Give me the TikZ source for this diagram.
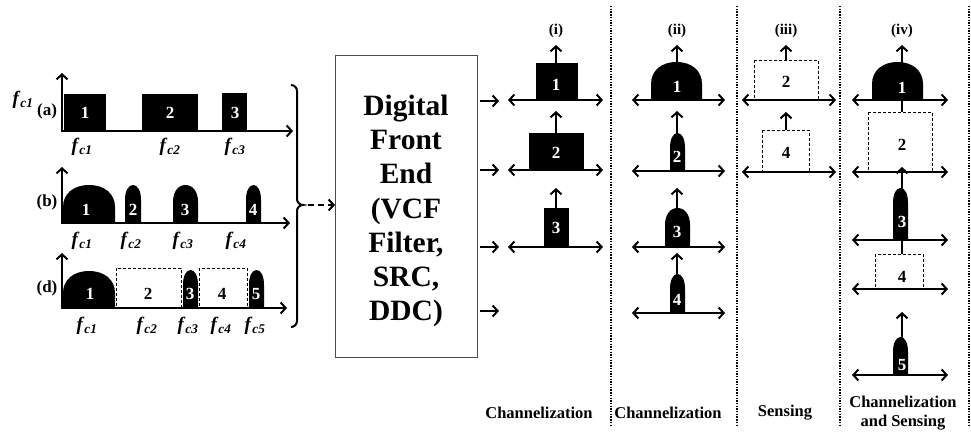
\documentclass[tikz,border=0pt]{standalone}
\usepackage{fontspec}
\setmainfont{Liberation Serif}
\usetikzlibrary{arrows.meta}

% filled spectral lobe: flat sides, rounded top
% #1 left x, #2 right x, #3 top y, #4 base y, #5 height of the rounded part
\newcommand\specHump[5]{%
  \pgfmathsetmacro\hxc{(#1+#2)/2}%
  \pgfmathsetmacro\hrx{(#2-#1)/2}%
  \fill (#1,#4) -- (#1,#3+#5)
    .. controls (#1,#3+0.4*#5) and (\hxc-0.6*\hrx,#3) .. (\hxc,#3)
    .. controls (\hxc+0.6*\hrx,#3) and (#2,#3+0.4*#5) .. (#2,#3+#5)
    -- (#2,#4) -- cycle;}
\newcommand\fcl[1]{\textit{f}\textsubscript{\textit{c#1}}}

\begin{document}
\begin{tikzpicture}[x=1pt,y=-1pt,
  barb/.tip={Straight Barb[length=5pt,width=11pt]},
  ax/.style={line width=2pt,-barb},
  dax/.style={line width=2pt,barb-barb},
  sensebox/.style={draw,line width=0.9pt,dash pattern=on 3pt off 2pt},
  colsep/.style={line width=2.2pt,dash pattern=on 1.4pt off 1.3pt},
  lbl/.style={font=\bfseries\fontsize{17}{20}\selectfont,inner sep=0pt},
  wlbl/.style={lbl,text=white},
  plbl/.style={font=\bfseries\fontsize{17}{20}\selectfont,inner sep=0pt},
  flbl/.style={font=\bfseries\fontsize{19}{22}\selectfont,inner sep=0pt},
  ttl/.style={font=\bfseries\fontsize{15}{18}\selectfont,inner sep=0pt},
  captxt/.style={font=\bfseries\fontsize{16.5}{19.5}\selectfont,inner sep=0pt,align=center}]
\useasboundingbox (0,0) rectangle (971,431);

% ---------- input spectra ----------
\node[flbl] (fctop) at (23,100) {\fcl{1}};
\node[plbl] (la) at (47,111) {(a)};
\node[plbl] (lb) at (47,202) {(b)};
\node[plbl] (ld) at (47,288) {(d)};

% (a)
\fill (64,94) rectangle (106,131);
\fill (142,94) rectangle (198,131);
\fill (222,93) rectangle (247,131);
\draw[ax] (62,131) -- (62,73);
\draw[ax] (61,131) -- (293,131);
\node[wlbl] (a1) at (85,113) {1};
\node[wlbl] (a2) at (170,113) {2};
\node[wlbl] (a3) at (235,113) {3};
\node[flbl] (fa1) at (82,147) {\fcl{1}};
\node[flbl] (fa2) at (170,147) {\fcl{2}};
\node[flbl] (fa3) at (235,147) {\fcl{3}};

% (b)
\specHump{63}{115}{185}{223}{22}
\specHump{125}{141}{185}{223}{15}
\specHump{173}{198}{185}{223}{17}
\specHump{246}{261}{185}{223}{15}
\draw[ax] (62,223) -- (62,167);
\draw[ax] (61,223) -- (290,223);
\node[wlbl] (b1) at (86,210) {1};
\node[wlbl] (b2) at (133,210) {2};
\node[wlbl] (b3) at (185,210) {3};
\node[wlbl] (b4) at (253,210) {4};
\node[flbl] (fb1) at (82,241) {\fcl{1}};
\node[flbl] (fb2) at (131,241) {\fcl{2}};
\node[flbl] (fb3) at (183,241) {\fcl{3}};
\node[flbl] (fb4) at (236,241) {\fcl{4}};

% (d)
\specHump{63}{115}{271}{308}{22}
\draw[sensebox] (116,268) rectangle (181,308);
\specHump{183}{198}{270}{308}{15}
\draw[sensebox] (199,268) rectangle (247,308);
\specHump{249}{264}{270}{308}{15}
\draw[ax] (62,308) -- (62,253);
\draw[ax] (61,308) -- (287,308);
\node[wlbl] (d1) at (90,294) {1};
\node[lbl] (d2) at (148,294) {2};
\node[wlbl] (d3) at (190,294) {3};
\node[lbl] (d4) at (222,294) {4};
\node[wlbl] (d5) at (256,294) {5};
\node[flbl] (fd1) at (87,326) {\fcl{1}};
\node[flbl] (fd2) at (147,326) {\fcl{2}};
\node[flbl] (fd3) at (188,326) {\fcl{3}};
\node[flbl] (fd4) at (221,326) {\fcl{4}};
\node[flbl] (fd5) at (255,326) {\fcl{5}};

% brace gathering the three inputs
\coordinate (btip) at (303,205);
\draw[line width=2pt] (291,85) to[out=0,in=90] (297,91) -- (297,199)
  to[out=-90,in=180] (btip) to[out=180,in=90] (297,211) -- (297,321)
  to[out=-90,in=0] (291,327);

% ---------- digital front end ----------
\node[draw=black!70,line width=1.2pt,minimum width=142,minimum height=302,
  anchor=north west,inner sep=0pt] (dfe) at (335,55) {};
\node[font=\bfseries\fontsize{29.5}{34.3}\selectfont,align=center,inner sep=0pt]
  (dfetext) at (406,211) {Digital\\Front\\End\\(VCF\\Filter,\\SRC,\\DDC)};
\draw[line width=2pt,dash pattern=on 6pt off 4pt,-barb] (btip) ++(5,0) -- (dfe.west |- btip);

\foreach \yy/\nm in {101/o1,170/o2,247/o3,311/o4}{
  \coordinate (\nm) at (499,\yy);
  \draw[ax] (dfe.east |- \nm) ++(2,0) -- (\nm);
}

% ---------- column separators ----------
\foreach \xx in {611,737,840,969}
  \draw[colsep] (\xx,6) -- (\xx,426);

% ---------- (i) channelization ----------
\node[ttl] (ti) at (556,31) {(i)};
\fill (536,63) rectangle (578,100);
\fill (529,133) rectangle (584,170);
\fill (544,208) rectangle (569,247);
\foreach \yy in {100,170,247} \draw[dax] (508,\yy) -- (603,\yy);
\draw[ax] (556,64) -- (556,45);
\draw[ax] (556,134) -- (556,111);
\draw[ax] (556,209) -- (556,188);
\node[wlbl] (i1) at (556,85) {1};
\node[wlbl] (i2) at (556,153) {2};
\node[wlbl] (i3) at (556,228) {3};

% ---------- (ii) channelization ----------
\node[ttl] (tii) at (677,31) {(ii)};
\specHump{651}{702}{62}{100}{22}
\specHump{670}{685}{133}{171}{15}
\specHump{665}{690}{208}{247}{17}
\specHump{670}{685}{274}{313}{15}
\foreach \yy in {100,171,247,313} \draw[dax] (632,\yy) -- (725,\yy);
\draw[ax] (677,63) -- (677,45);
\draw[ax] (677,134) -- (677,111);
\draw[ax] (677,209) -- (677,188);
\draw[ax] (677,275) -- (677,253);
\node[wlbl] (ii1) at (677,87) {1};
\node[wlbl] (ii2) at (677,157) {2};
\node[wlbl] (ii3) at (677,232) {3};
\node[wlbl] (ii4) at (677,300) {4};

% ---------- (iii) sensing ----------
\node[ttl] (tiii) at (786,31) {(iii)};
\draw[sensebox] (754,60) rectangle (818,100);
\draw[sensebox] (762,130) rectangle (809,172);
\foreach \yy in {100,172} \draw[dax] (742,\yy) -- (836,\yy);
\draw[ax] (786,60) -- (786,45);
\draw[ax] (786,130) -- (786,112);
\node[lbl] (iii2) at (786,82) {2};
\node[lbl] (iii4) at (786,153) {4};

% ---------- (iv) channelization and sensing ----------
\node[ttl] (tiv) at (902,31) {(iv)};
\specHump{872}{923}{62}{100}{22}
\draw[sensebox] (868,112) rectangle (932,172);
\specHump{893}{908}{188}{240}{15}
\draw[sensebox] (875,254) rectangle (923,289);
\specHump{893}{908}{337}{375}{15}
\foreach \yy in {100,172,240,289,375} \draw[dax] (852,\yy) -- (948,\yy);
\draw[ax] (902,63) -- (902,45);
\draw[ax] (902,112) -- (902,93);
\draw[ax] (902,189) -- (902,167);
\draw[ax] (902,254) -- (902,232);
\draw[ax] (902,338) -- (902,312);
\node[wlbl] (iv1) at (902,88) {1};
\node[lbl] (iv2) at (902,145) {2};
\node[wlbl] (iv3) at (902,222) {3};
\node[lbl] (iv4) at (902,277) {4};
\node[wlbl] (iv5) at (902,365) {5};

% ---------- captions ----------
\node[captxt] (ci) at (539,413) {Channelization};
\node[captxt] (cii) at (668,413) {Channelization};
\node[captxt] (ciii) at (785,413) {Sensing};
\node[captxt,font=\bfseries\fontsize{16.5}{19}\selectfont] (civ) at (903,413) {Channelization\\and Sensing};
\end{tikzpicture}
\end{document}
